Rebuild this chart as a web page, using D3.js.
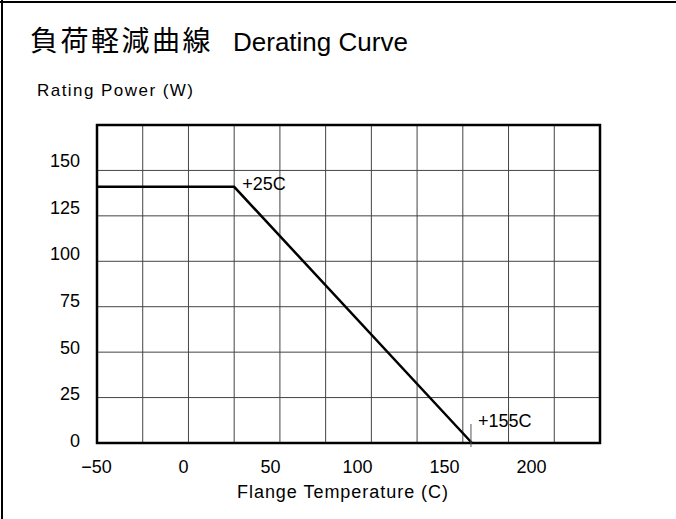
<!DOCTYPE html>
<html>
<head>
<meta charset="utf-8">
<script src="https://cdn.jsdelivr.net/npm/d3@7"></script>
<style>
html,body{margin:0;padding:0;background:#fff;}
svg{display:block;}
</style>
</head>
<body>
<svg id="chart" width="676" height="519"></svg>
<script>
// ---- data ----
const titleJa = "負荷軽減曲線";
const titleEn = "Derating Curve";
const yAxisTitle = "Rating Power (W)";
const xAxisTitle = "Flange Temperature (C)";
const xTickLabels = [-50, 0, 50, 100, 150, 200];
const yTickLabels = [0, 25, 50, 75, 100, 125, 150];
const xGrid = [-25, 0, 25, 50, 75, 100, 125, 150, 175, 200];
const yGrid = [25, 50, 75, 100, 125, 150];
const curveTemp = [-50, 25, 155];
const curvePower = [141, 141, 0];
const annotations = [{t: 25, p: 141, label: "+25C"}, {t: 155, p: 0, label: "+155C"}];

const svg = d3.select("#chart");
const W = 676, H = 519;
const plot = {left: 97, right: 600, top: 125, bottom: 443};

const x = d3.scaleLinear().domain([-50, 225]).range([plot.left, plot.right]);
const y = d3.scaleLinear().domain([0, 175]).range([plot.bottom, plot.top]);
// tick labels in the original sit on a slightly different pitch than the grid
const xLab = d3.scaleLinear().domain([-50, 200]).range([96, 531]);
const yLab = d3.scaleLinear().domain([0, 150]).range([440, 160]);

// outer border (top & left)
svg.append("line").attr("x1", 2).attr("x2", 2).attr("y1", 0).attr("y2", H)
  .attr("stroke", "#000").attr("stroke-width", 2);
svg.append("line").attr("x1", 0).attr("x2", W).attr("y1", 2).attr("y2", 2)
  .attr("stroke", "#000").attr("stroke-width", 2);

// title
const title = svg.append("text").attr("x", 30).attr("y", 51).attr("fill", "#000");
title.append("tspan").attr("font-family", "'Noto Sans CJK JP'").attr("font-size", 28)
  .attr("letter-spacing", 2.5).text(titleJa);
title.append("tspan").attr("x", 233).attr("font-family", "'Liberation Sans', Arial, sans-serif")
  .attr("font-size", 26).text(titleEn);

// y axis title
svg.append("text").attr("x", 37).attr("y", 96)
  .attr("font-family", "'Liberation Sans', Arial, sans-serif").attr("font-size", 17)
  .attr("textLength", 156).attr("lengthAdjust", "spacing")
  .attr("fill", "#000").text(yAxisTitle);

// grid
const grid = svg.append("g");
grid.selectAll("line.vx").data(xGrid).join("line").attr("class", "vx")
  .attr("x1", d => x(d)).attr("x2", d => x(d))
  .attr("y1", plot.top).attr("y2", plot.bottom)
  .attr("stroke", "#444").attr("stroke-width", 1);
grid.selectAll("line.hy").data(yGrid).join("line").attr("class", "hy")
  .attr("x1", plot.left).attr("x2", plot.right)
  .attr("y1", d => y(d)).attr("y2", d => y(d))
  .attr("stroke", "#444").attr("stroke-width", 1);

// frame
svg.append("rect").attr("x", plot.left).attr("y", plot.top)
  .attr("width", plot.right - plot.left).attr("height", plot.bottom - plot.top)
  .attr("fill", "none").attr("stroke", "#000").attr("stroke-width", 2.5);

// axes (labels only)
const xAxis = svg.append("g").attr("transform", `translate(0,${plot.bottom})`)
  .call(d3.axisBottom(xLab).tickValues(xTickLabels).tickSize(0).tickPadding(0));
xAxis.select(".domain").remove();
xAxis.selectAll("text").attr("dy", null).attr("y", 30)
  .attr("font-family", "'Liberation Sans', Arial, sans-serif").attr("font-size", 18).attr("fill", "#000");

const yAxis = svg.append("g").attr("transform", `translate(80,0)`)
  .call(d3.axisLeft(yLab).tickValues(yTickLabels).tickSize(0).tickPadding(0));
yAxis.select(".domain").remove();
yAxis.selectAll("text").attr("x", 0).attr("dy", "0.36em")
  .attr("font-family", "'Liberation Sans', Arial, sans-serif").attr("font-size", 18).attr("fill", "#000");

// x axis title
svg.append("text").attr("x", 237).attr("y", 498)
  .attr("font-family", "'Liberation Sans', Arial, sans-serif").attr("font-size", 18)
  .attr("textLength", 211).attr("lengthAdjust", "spacing")
  .attr("fill", "#000").text(xAxisTitle);

// curve
const pts = curveTemp.map((t, i) => [t, curvePower[i]]);
svg.append("path").datum(pts)
  .attr("d", d3.line().x(d => x(d[0])).y(d => y(d[1])))
  .attr("fill", "none").attr("stroke", "#000").attr("stroke-width", 2.5)
  .attr("stroke-linejoin", "miter");

// 155 marker tick
svg.append("line").attr("x1", x(155) - 1).attr("x2", x(155) - 1)
  .attr("y1", y(0) - 19).attr("y2", y(0) + 4)
  .attr("stroke", "#555").attr("stroke-width", 1);

// annotations
svg.selectAll("text.ann").data(annotations).join("text").attr("class", "ann")
  .attr("x", d => x(d.t) + (d.t === 25 ? 8 : 6))
  .attr("y", d => d.t === 25 ? y(d.p) + 3 : y(d.p) - 16)
  .attr("font-family", "'Liberation Sans', Arial, sans-serif").attr("font-size", 18)
  .attr("fill", "#000").text(d => d.label);
</script>
</body>
</html>
